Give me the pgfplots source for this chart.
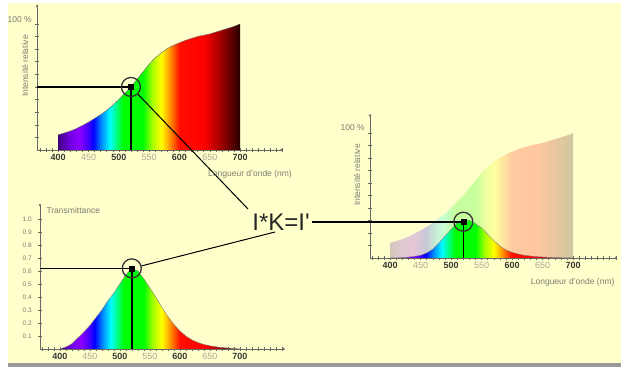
\documentclass[border=0pt]{standalone}
\usepackage{fontspec}
\setmainfont{Liberation Sans}
\usepackage{pgfplots}
\usepackage{pgfplotstable}
\pgfplotsset{compat=1.18}
\usetikzlibrary{arrows.meta}

\definecolor{bgY}{RGB}{255,255,204}
\definecolor{axisgray}{RGB}{105,105,100}
\definecolor{tickdark}{RGB}{55,55,50}
\definecolor{ticklight}{RGB}{170,170,150}
\definecolor{labgray}{RGB}{125,125,115}

\definecolor{s1}{rgb}{0.25,0,0.50}
\definecolor{s2}{rgb}{0.45,0,0.90}
\definecolor{s3}{rgb}{0.55,0,1.00}
\definecolor{s4}{rgb}{0.30,0,1.00}
\definecolor{s5}{rgb}{0,0,1}
\definecolor{s6}{rgb}{0,0.5,1}
\definecolor{s7}{rgb}{0,1,1}
\definecolor{s8}{rgb}{0,1,0.45}
\definecolor{s9}{rgb}{0,1,0}
\definecolor{s10}{rgb}{0,1,0}
\definecolor{s11}{rgb}{0.65,1,0}
\definecolor{s12}{rgb}{1,1,0}
\definecolor{s13}{rgb}{1,0.55,0}
\definecolor{s14}{rgb}{1,0.05,0}
\definecolor{s15}{rgb}{1,0,0}
\definecolor{s16}{rgb}{0.6,0,0}
\definecolor{s17}{rgb}{0.15,0,0}
\colorlet{f1}{s1!22!bgY}\colorlet{f2}{s2!22!bgY}\colorlet{f3}{s3!22!bgY}
\colorlet{f4}{s4!22!bgY}\colorlet{f5}{s5!22!bgY}\colorlet{f6}{s6!22!bgY}
\colorlet{f7}{s7!22!bgY}\colorlet{f8}{s8!22!bgY}\colorlet{f9}{s9!22!bgY}
\colorlet{f10}{s10!22!bgY}\colorlet{f11}{s11!22!bgY}\colorlet{f12}{s12!22!bgY}
\colorlet{f13}{s13!22!bgY}\colorlet{f14}{s14!22!bgY}\colorlet{f15}{s15!22!bgY}
\colorlet{f16}{s16!22!bgY}\colorlet{f17}{s17!22!bgY}

\pgfdeclarehorizontalshading{spectrum}{100bp}{color(0bp)=(s1); color(25bp)=(s1); color(28.333bp)=(s2); color(30.833bp)=(s3); color(33bp)=(s4); color(34.667bp)=(s5); color(36.667bp)=(s6); color(39.167bp)=(s7); color(41.167bp)=(s8); color(42.833bp)=(s9); color(48.333bp)=(s10); color(50.833bp)=(s11); color(53.333bp)=(s12); color(55.833bp)=(s13); color(58.333bp)=(s14); color(65bp)=(s15); color(70bp)=(s16); color(75bp)=(s17); color(100bp)=(s17)}
\pgfdeclarehorizontalshading{spectrumfaded}{100bp}{color(0bp)=(f1); color(25bp)=(f1); color(28.333bp)=(f2); color(30.833bp)=(f3); color(33bp)=(f4); color(34.667bp)=(f5); color(36.667bp)=(f6); color(39.167bp)=(f7); color(41.167bp)=(f8); color(42.833bp)=(f9); color(48.333bp)=(f10); color(50.833bp)=(f11); color(53.333bp)=(f12); color(55.833bp)=(f13); color(58.333bp)=(f14); color(65bp)=(f15); color(70bp)=(f16); color(75bp)=(f17); color(100bp)=(f17)}

\newcommand\lab{\fontsize{8.5bp}{10bp}\selectfont}
\newcommand\bt[1]{{\color{tickdark}\bfseries #1}}
\newcommand\lt[1]{{\color{ticklight}#1}}

\pgfplotstableread{
nm I
400 12
410 13.5
420 15
430 17
440 19.5
450 22
460 25
470 28
480 31.5
490 35.5
500 40
510 45
520 50
530 56
540 62
550 68
560 73
570 77
580 80.5
590 83
600 85
610 87
620 88.5
630 90
640 91
650 92
660 93.5
670 95
680 96.5
690 98
700 100
}\tabI

\pgfplotstableread{
nm K
400 0.00
410 0.015
420 0.04
430 0.085
440 0.13
450 0.18
460 0.24
470 0.30
480 0.37
490 0.43
500 0.50
510 0.57
520 0.62
530 0.60
540 0.54
550 0.47
560 0.40
570 0.32
580 0.25
590 0.19
600 0.14
610 0.10
620 0.07
630 0.05
640 0.035
650 0.025
660 0.017
670 0.011
680 0.007
690 0.004
700 0.0
}\tabK

\pgfplotstableread{
nm P
400 0
410 0.1
420 0.3
430 0.7
440 1.3
450 2.2
460 4
470 7
480 12
490 17.5
500 23
510 28
520 30.5
530 30
540 27.5
550 24
560 19
570 14
580 9.5
590 6.5
600 4.5
610 3.2
620 2.2
630 1.6
640 1.1
650 0.8
660 0.5
670 0.3
680 0.2
690 0.1
700 0
}\tabP

\pgfplotsset{spec/.style={
  scale only axis, axis lines=left,
  axis line style={axisgray, line width=0.8bp, -{Circle[length=2.2bp]}},
  enlargelimits=false,
  tick style={axisgray, line width=0.5bp}, tick align=center,
  major tick length=3.5bp, minor tick length=3.5bp,
  xtick={400,450,...,700},
  xticklabels={\bt{400},\lt{450},\bt{500},\lt{550},\bt{600},\lt{650},\bt{700}},
  minor xtick={370,380,...,770},
  xticklabel style={font=\fontsize{9bp}{10bp}\selectfont, inner sep=2bp},
  yticklabel style={font=\lab, text=labgray},
}}

\begin{document}
\begin{tikzpicture}
\useasboundingbox (0,0) rectangle (621bp,367bp);
\fill[white] (0,0) rectangle (621bp,367bp);
\fill[bgY] (8bp,4bp) rectangle (621bp,364bp);
\fill[black!40] (8bp,0) rectangle (621bp,4bp);

% top-left: intensity
\begin{axis}[spec, at={(37bp,217bp)}, anchor=south west,
  width=245.5bp, height=145bp, xmin=365, xmax=770, ymin=0, ymax=115,
  ytick={100}, yticklabels={100 \%}, minor ytick={10,20,...,90},
  yticklabel style={yshift=4bp}]
\addplot[draw=none, shade, shading=spectrum] table[x=nm,y=I]{\tabI} \closedcycle;
\addplot[black!60, line width=0.4bp] table[x=nm,y=I]{\tabI};
\addplot[black, line width=1.6bp] coordinates {(365,50) (520,50) (520,0)};
\addplot[only marks, mark=square*, mark size=2.5bp, black] coordinates {(520,50)};
\addplot[only marks, mark=o, mark size=9.5bp, mark options={line width=1.3bp, draw=black!80}] coordinates {(520,50)};
\coordinate (M1) at (axis cs:520,50);
\end{axis}

% bottom-left: transmittance
\begin{axis}[spec, at={(40bp,18bp)}, anchor=south west,
  width=244.8bp, height=145bp, xmin=367, xmax=775, ymin=0, ymax=1.115,
  ytick={0.1,0.2,0.3,0.4,0.5,0.6,0.7,0.8,0.9,1.0},
  yticklabels={0.1,0.2,0.3,0.4,0.5,0.6,0.7,0.8,0.9,1.0},
  yticklabel style={font=\fontsize{6.5bp}{7bp}\selectfont, xshift=-3bp}]
\addplot[draw=none, shade, shading=spectrum] table[x=nm,y=K]{\tabK} \closedcycle;
\addplot[black!50, line width=0.4bp] table[x=nm,y=K]{\tabK};
\addplot[black, line width=1.6bp] coordinates {(367,0.62) (520,0.62) (520,0)};
\addplot[only marks, mark=square*, mark size=2.5bp, black] coordinates {(520,0.62)};
\addplot[only marks, mark=o, mark size=9.5bp, mark options={line width=1.3bp, draw=black!80}] coordinates {(520,0.62)};
\coordinate (M2) at (axis cs:520,0.62);
\end{axis}

% right: product
\begin{axis}[spec, at={(370bp,109bp)}, anchor=south west, clip=false,
  width=247bp, height=143.75bp, xmin=367, xmax=772, ymin=0, ymax=115,
  ytick={100}, yticklabels={100 \%}, minor ytick={10,20,...,90},
  yticklabel style={yshift=5bp}]
\addplot[draw=none, shade, shading=spectrumfaded] table[x=nm,y=I]{\tabI} \closedcycle;
\addplot[draw=none, shade, shading=spectrum] table[x=nm,y=P]{\tabP} \closedcycle;
\addplot[black!50, line width=0.4bp] table[x=nm,y=P]{\tabP};
\addplot[black, line width=1.6bp] coordinates {(272,29) (520,29) (520,0)};
\addplot[only marks, mark=square*, mark size=2.5bp, black] coordinates {(520,29)};
\addplot[only marks, mark=o, mark size=9.5bp, mark options={line width=1.3bp, draw=black!80}] coordinates {(520,29)};
\end{axis}

\draw[black, line width=1bp, shorten <=10bp] (M1) -- (248bp,158bp);
\draw[black, line width=1bp, shorten <=10bp] (M2) -- (275bp,135bp);
\node[font=\fontsize{24bp}{26bp}\selectfont, text=black!85] at (281bp,145bp) {I*K=I\textquotesingle};

\node[rotate=90, font=\lab, text=labgray] at (25bp,301bp) {Intensité relative};
\node[font=\lab, text=labgray] at (250bp,193bp) {Longueur d'onde (nm)};
\node[anchor=west, font=\lab, text=labgray] at (43bp,157bp) {Transmittance};
\node[rotate=90, font=\lab, text=labgray] at (357bp,192bp) {Intensité relative};
\node[anchor=east, font=\lab, text=labgray] at (618bp,85bp) {Longueur d'onde (nm)};
\end{tikzpicture}
\end{document}
